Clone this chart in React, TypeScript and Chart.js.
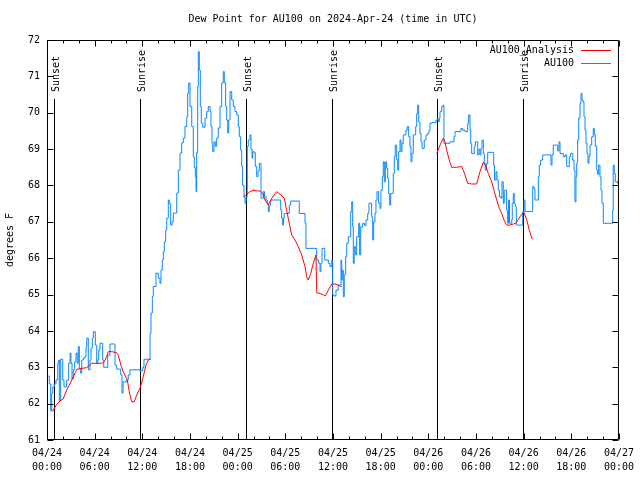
import { useEffect, useRef } from 'react';
import { Chart, registerables } from 'chart.js';

Chart.register(...registerables);

const TITLE = 'Dew Point for AU100 on 2024-Apr-24 (time in UTC)';
const Y_LABEL = 'degrees F';
const FONT = '"DejaVu Sans Mono", "Liberation Mono", monospace';

const X_TICK_DATES = ['04/24', '04/24', '04/24', '04/24', '04/25', '04/25', '04/25', '04/25', '04/26', '04/26', '04/26', '04/26', '04/27'];
const X_TICK_TIMES = ['00:00', '06:00', '12:00', '18:00', '00:00', '06:00', '12:00', '18:00', '00:00', '06:00', '12:00', '18:00', '00:00'];

const SUN_HOURS = [0.92, 11.74, 25.09, 35.91, 49.13, 59.96];
const SUN_LABELS = ['Sunset', 'Sunrise', 'Sunset', 'Sunrise', 'Sunset', 'Sunrise'];

// hours since 2024-04-24 00:00 UTC
const obsHours = [
  0.16, 0.29, 0.47, 0.59, 0.72, 0.92, 1.13, 1.35, 1.47, 1.55, 1.72, 1.98, 2.14, 2.48, 2.73, 2.9, 3.02, 3.15, 3.31, 3.49,
  3.65, 3.81, 3.94, 4.07, 4.24, 4.37, 4.57, 4.78, 4.91, 5.0, 5.2, 5.41, 5.54, 5.7, 5.83, 6.08, 6.26, 6.38, 6.51, 6.67,
  7.01, 7.14, 7.64, 7.93, 8.56, 8.77, 9.28, 9.44, 9.57, 10.03, 10.23, 10.45, 11.71, 12.05, 12.21, 12.97, 13.09, 13.26, 13.38, 13.72,
  14.01, 14.22, 14.35, 14.51, 14.64, 14.77, 14.94, 15.07, 15.27, 15.39, 15.57, 15.74, 15.9, 16.33, 16.53, 16.74, 16.96, 17.16, 17.37, 17.59,
  17.71, 17.84, 18.0, 18.22, 18.42, 18.54, 18.67, 18.76, 18.84, 18.97, 19.05, 19.17, 19.3, 19.42, 19.6, 19.89, 20.1, 20.3, 20.52, 20.64,
  20.77, 20.86, 21.02, 21.19, 21.36, 21.56, 21.78, 21.99, 22.19, 22.32, 22.49, 22.62, 22.75, 22.87, 23.04, 23.25, 23.45, 23.67, 23.88, 24.08,
  24.21, 24.38, 24.51, 24.63, 24.8, 24.92, 25.05, 25.21, 25.34, 25.55, 25.68, 25.81, 25.9, 26.06, 26.22, 26.4, 26.56, 26.72, 26.94, 27.23,
  27.38, 27.57, 27.73, 27.86, 27.98, 28.16, 29.42, 29.54, 29.67, 29.77, 29.87, 30.5, 30.68, 31.76, 32.48, 32.6, 33.95, 34.2, 34.37, 34.49,
  34.62, 34.96, 35.41, 35.62, 35.84, 35.96, 36.13, 36.38, 36.67, 37.01, 37.1, 37.17, 37.3, 37.42, 37.6, 37.73, 37.93, 38.23, 38.36, 38.48,
  38.56, 38.68, 38.81, 38.98, 39.24, 39.36, 39.49, 39.74, 39.97, 40.16, 40.37, 40.53, 40.87, 41.0, 41.12, 41.29, 41.41, 41.54, 41.75, 41.92,
  42.04, 42.21, 42.33, 42.46, 42.59, 42.76, 42.89, 43.01, 43.14, 43.27, 43.59, 43.72, 43.84, 44.02, 44.15, 44.27, 44.44, 44.56, 44.69, 44.85,
  45.19, 45.35, 45.53, 45.69, 45.82, 45.95, 46.11, 46.41, 46.54, 46.66, 46.79, 46.95, 47.08, 47.21, 47.49, 47.71, 47.92, 48.09, 48.21, 48.43,
  48.97, 49.13, 49.26, 49.38, 49.47, 49.69, 49.89, 49.97, 50.73, 51.23, 51.36, 52.11, 52.33, 52.62, 52.96, 53.08, 53.25, 53.34, 53.46, 53.79,
  53.91, 54.22, 54.38, 54.51, 54.63, 54.76, 54.92, 55.05, 55.17, 55.32, 55.48, 56.23, 56.33, 56.52, 56.65, 56.81, 56.96, 57.15, 57.27, 57.44,
  57.56, 57.86, 57.99, 58.09, 58.22, 58.5, 58.57, 58.7, 58.82, 58.95, 59.08, 59.88, 60.05, 60.17, 61.05, 61.14, 61.3, 61.43, 61.85, 61.97,
  62.15, 62.4, 63.32, 63.44, 63.57, 63.73, 64.16, 64.29, 64.45, 64.58, 64.99, 65.21, 65.42, 65.75, 65.92, 66.18, 66.34, 66.46, 66.59, 66.68,
  66.8, 66.93, 67.1, 67.22, 67.35, 67.47, 67.6, 67.73, 67.85, 67.98, 68.1, 68.23, 68.36, 68.57, 68.77, 68.9, 69.02, 69.2, 69.32, 69.45,
  69.61, 69.74, 69.86, 70.03, 71.08, 71.21, 71.28, 71.41, 71.54, 71.84, 72.0,
];

const obsDewPoint = [
  62.76, 62.54, 61.8, 62.29, 62.46, 62.54, 62.65, 63.11, 63.2, 62.08, 63.22, 62.65, 62.46, 62.65, 63.11, 63.39, 63.11, 62.68, 62.93, 63.15,
  63.39, 63.11, 63.57, 62.97, 62.84, 63.2, 63.25, 63.3, 63.56, 63.8, 62.93, 63.2, 63.52, 63.8, 63.98, 63.61, 63.11, 63.2, 63.47, 63.66,
  63.2, 63.0, 63.33, 63.64, 63.06, 62.95, 62.79, 62.29, 62.6, 62.65, 62.79, 62.93, 62.9, 63.0, 63.22, 63.93, 64.49, 64.94, 65.22, 65.59,
  65.45, 65.31, 65.67, 65.95, 66.18, 66.45, 66.77, 67.1, 67.6, 67.5, 66.91, 67.0, 67.24, 67.79, 68.42, 68.89, 69.17, 69.3, 69.62, 69.89,
  70.54, 70.82, 70.17, 69.62, 68.79, 68.5, 68.24, 67.83, 68.9, 70.72, 71.68, 71.17, 70.17, 69.71, 69.6, 69.85, 70.03, 70.17, 70.03, 69.62,
  69.16, 68.93, 69.2, 69.07, 69.3, 69.58, 70.17, 70.82, 71.13, 70.82, 70.17, 69.8, 69.44, 69.8, 70.58, 70.35, 70.17, 70.03, 69.94, 69.62,
  69.34, 68.97, 68.52, 68.0, 67.69, 67.51, 67.69, 69.07, 69.25, 69.39, 69.0, 68.75, 68.93, 68.9, 68.52, 68.24, 68.4, 68.61, 67.65, 67.83,
  67.7, 67.6, 67.51, 67.28, 67.45, 67.6, 67.32, 67.1, 66.91, 67.1, 67.23, 67.46, 67.57, 67.23, 66.96, 66.27, 65.95, 65.86, 65.63, 65.86,
  66.27, 65.95, 65.86, 65.77, 65.95, 64.99, 64.96, 65.12, 65.26, 65.95, 65.4, 65.67, 64.94, 65.54, 66.04, 66.41, 66.59, 67.28, 67.55, 66.86,
  65.86, 66.32, 66.09, 66.59, 66.96, 66.09, 66.86, 66.96, 66.9, 67.05, 67.23, 67.51, 67.14, 66.5, 67.0, 67.23, 67.6, 67.83, 67.51, 67.37,
  67.87, 68.24, 68.65, 68.1, 68.65, 68.47, 68.2, 67.78, 67.46, 67.78, 68.33, 68.79, 69.11, 68.7, 68.42, 68.93, 69.25, 68.93, 69.16, 69.39,
  69.52, 69.62, 69.34, 69.07, 68.65, 68.88, 69.39, 69.62, 69.98, 70.21, 69.75, 69.43, 69.2, 69.02, 69.25, 69.39, 69.43, 69.52, 69.71, 69.73,
  69.8, 69.85, 69.75, 69.85, 70.03, 70.17, 70.21, 69.16, 69.2, 69.34, 69.48, 69.57, 69.52, 69.48, 69.71, 69.94, 69.52, 69.16, 68.88, 69.07,
  69.2, 68.84, 69.0, 68.84, 69.02, 69.25, 68.88, 68.61, 68.42, 68.6, 68.91, 68.56, 68.15, 68.38, 68.15, 67.87, 67.69, 67.65, 68.1, 67.51,
  67.87, 67.32, 66.96, 67.6, 66.96, 67.05, 67.51, 67.78, 67.5, 67.42, 66.91, 67.28, 67.6, 67.28, 67.28, 67.97, 67.92, 67.6, 68.24, 68.56,
  68.7, 68.84, 68.84, 68.56, 68.84, 69.11, 69.11, 68.95, 69.2, 68.88, 68.79, 68.84, 68.52, 68.79, 68.88, 68.7, 68.42, 67.55, 68.24, 68.61,
  69.25, 69.85, 70.26, 70.53, 70.35, 70.3, 69.89, 69.52, 69.16, 68.88, 68.61, 68.8, 69.11, 69.34, 69.57, 69.4, 69.07, 68.42, 68.3, 68.56,
  68.24, 67.87, 67.51, 66.96, 66.96, 67.32, 68.56, 68.33, 68.1, 68.06, 67.9,
];

// null entries separate the three analysis runs
const analysisHours = [
  0.69, 1.13, 1.64, 2.01, 2.48, 2.81, 3.31, 3.74, 4.37, 5.0, 5.63, 6.89, 7.21, 7.52, 7.72, 8.14, 8.77, 8.98, 9.19, 9.4,
  9.6, 10.11, 10.36, 10.66, 10.99, 11.29, 11.71, 12.12, 12.46, 12.75, 13.05,
  18,
  24.71, 25.14, 25.55, 25.97, 26.4, 26.81, 27.15, 27.44, 27.86, 28.29, 28.91, 29.33, 29.87, 30.17, 30.5, 30.8, 31.22, 31.63, 32.06, 32.48,
  32.69, 32.89, 33.2, 33.52, 33.86, 33.95, 34.37, 34.78, 35.08, 35.41, 35.84, 36.25, 36.67, 37.1,
  43,
  49.06, 49.47, 49.89, 50.1, 50.31, 50.64, 50.94, 51.57, 52.2, 52.4, 52.62, 52.96, 53.46, 54.09, 54.22, 54.51, 54.92, 55.26, 55.55, 55.98,
  56.27, 56.61, 56.94, 57.24, 57.53, 57.86, 58.28, 58.7, 59.0, 59.33, 59.76, 60.05, 60.39, 60.72, 61.02, 61.22,
];

const analysisDewPoint = [
  61.78, 61.95, 62.08, 62.12, 62.37, 62.51, 62.74, 62.94, 62.97, 62.99, 63.11, 63.11, 63.15, 63.3, 63.43, 63.43, 63.4, 63.33, 63.15, 63.0,
  62.88, 62.65, 62.33, 62.05, 62.05, 62.24, 62.42, 62.74, 63.06, 63.2, 63.22,
  null,
  67.69, 67.76, 67.83, 67.87, 67.85, 67.85, 67.78, 67.6, 67.46, 67.65, 67.83, 67.76, 67.65, 67.32, 66.96, 66.64, 66.5, 66.32, 66.09, 65.77,
  65.49, 65.4, 65.58, 65.86, 66.09, 65.05, 65.03, 64.99, 64.97, 65.12, 65.29, 65.29, 65.26, 65.22,
  null,
  68.88, 69.11, 69.3, 69.2, 68.97, 68.7, 68.5, 68.5, 68.52, 68.42, 68.29, 68.06, 68.04, 68.04, 68.15, 68.38, 68.64, 68.52, 68.33, 68.1,
  67.87, 67.6, 67.37, 67.23, 67.05, 66.91, 66.91, 66.94, 66.96, 67.07, 67.21, 67.26, 67.05, 66.77, 66.55, 66.52,
];

const RED = '#ff0000';
const BLUE = '#0a88ff';

const decorPlugin = {
  id: 'gnuplotDecor',
  beforeDatasetsDraw(chart: any) {
    const { ctx, chartArea } = chart;
    const xs = chart.scales.x;
    ctx.save();
    ctx.strokeStyle = '#000';
    ctx.lineWidth = 1;
    ctx.fillStyle = '#000';
    ctx.font = `10px ${FONT}`;
    SUN_HOURS.forEach((h, i) => {
      const x = Math.round(xs.getPixelForValue(h)) + 0.5;
      ctx.beginPath();
      ctx.moveTo(x, 99);
      ctx.lineTo(x, chartArea.bottom);
      ctx.stroke();
      ctx.save();
      ctx.translate(x + 1.5, 92);
      ctx.rotate(-Math.PI / 2);
      ctx.textAlign = 'left';
      ctx.textBaseline = 'middle';
      ctx.fillText(SUN_LABELS[i], 0, 0);
      ctx.restore();
    });
    ctx.restore();
  },
  afterDraw(chart: any) {
    const { ctx, chartArea } = chart;
    const xs = chart.scales.x;
    const ys = chart.scales.y;
    const L = chartArea.left + 0.5;
    const R = chartArea.right - 0.5;
    const T = chartArea.top + 0.5;
    const B = chartArea.bottom - 0.5;
    ctx.save();
    ctx.strokeStyle = '#000';
    ctx.lineWidth = 1;
    ctx.beginPath();
    ctx.rect(L, T, R - L, B - T);
    // y ticks (inward, both sides)
    for (let v = 61; v <= 72; v++) {
      const y = Math.round(ys.getPixelForValue(v)) + 0.5;
      ctx.moveTo(L, y); ctx.lineTo(L + 6, y);
      ctx.moveTo(R, y); ctx.lineTo(R - 6, y);
    }
    // x ticks: major every 6 h, minor every 2 h
    for (let h = 0; h <= 72; h += 2) {
      const x = Math.round(xs.getPixelForValue(h)) + 0.5;
      const len = h % 6 === 0 ? 6 : 3;
      ctx.moveTo(x, B); ctx.lineTo(x, B - len);
      ctx.moveTo(x, T); ctx.lineTo(x, T + len);
    }
    ctx.stroke();

    ctx.fillStyle = '#000';
    ctx.font = `10px ${FONT}`;
    // title
    ctx.textAlign = 'center';
    ctx.textBaseline = 'middle';
    ctx.fillText(TITLE, (chartArea.left + chartArea.right) / 2, 19);
    // y label
    ctx.save();
    ctx.translate(10, (chartArea.top + chartArea.bottom) / 2);
    ctx.rotate(-Math.PI / 2);
    ctx.fillText(Y_LABEL, 0, 0);
    ctx.restore();
    // legend
    const rows = [
      { label: chart.data.datasets[0].label, color: chart.data.datasets[0].borderColor, y: 50 },
      { label: chart.data.datasets[1].label, color: chart.data.datasets[1].borderColor, y: 63 },
    ];
    rows.forEach((r) => {
      ctx.textAlign = 'right';
      ctx.fillStyle = '#000';
      ctx.fillText(r.label, 574, r.y);
      ctx.strokeStyle = r.color;
      ctx.beginPath();
      ctx.moveTo(581, r.y + 0.5);
      ctx.lineTo(611, r.y + 0.5);
      ctx.stroke();
    });
    ctx.restore();
  },
};

export default function App() {
  const canvasRef = useRef<HTMLCanvasElement | null>(null);

  useEffect(() => {
    const canvas = canvasRef.current;
    if (!canvas) return;
    const analysisData = analysisHours.map((h, i) => ({ x: h, y: analysisDewPoint[i] }));
    const obsData = obsHours.map((h, i) => ({ x: h, y: obsDewPoint[i] }));
    const chart = new Chart(canvas, {
      type: 'line',
      data: {
        datasets: [
          {
            label: 'AU100_Analysis',
            data: analysisData as any,
            borderColor: RED,
            backgroundColor: RED,
            borderWidth: 1,
            pointRadius: 0,
            spanGaps: false,
            tension: 0,
          },
          {
            label: 'AU100',
            data: obsData as any,
            borderColor: BLUE,
            backgroundColor: BLUE,
            borderWidth: 1,
            pointRadius: 0,
            stepped: 'before',
          },
        ],
      },
      options: {
        animation: false,
        responsive: false,
        devicePixelRatio: 1,
        events: [],
        layout: { padding: { left: 0, right: 21, top: 40, bottom: 0 } },
        plugins: {
          legend: { display: false },
          title: { display: false },
          tooltip: { enabled: false },
        },
        scales: {
          x: {
            type: 'linear',
            min: 0,
            max: 72,
            grid: { display: false, drawTicks: false },
            border: { display: false },
            afterFit: (s: any) => { s.height = 40; },
            ticks: {
              stepSize: 6,
              autoSkip: false,
              maxRotation: 0,
              minRotation: 0,
              padding: 6,
              color: '#000',
              font: { family: FONT, size: 10, lineHeight: 1.4 },
              callback: (value: any) => {
                const i = Math.round(Number(value) / 6);
                return [X_TICK_DATES[i], X_TICK_TIMES[i]];
              },
            },
          },
          y: {
            min: 61,
            max: 72,
            grid: { display: false, drawTicks: false },
            border: { display: false },
            afterFit: (s: any) => { s.width = 47; },
            ticks: {
              stepSize: 1,
              padding: 7,
              color: '#000',
              font: { family: FONT, size: 10 },
            },
          },
        },
      },
      plugins: [decorPlugin],
    });
    return () => chart.destroy();
  }, []);

  return (
    <div style={{ position: 'fixed', left: 0, top: 0, width: 640, height: 480, background: '#fff' }}>
      <canvas ref={canvasRef} width={640} height={480} style={{ display: 'block' }} />
    </div>
  );
}
